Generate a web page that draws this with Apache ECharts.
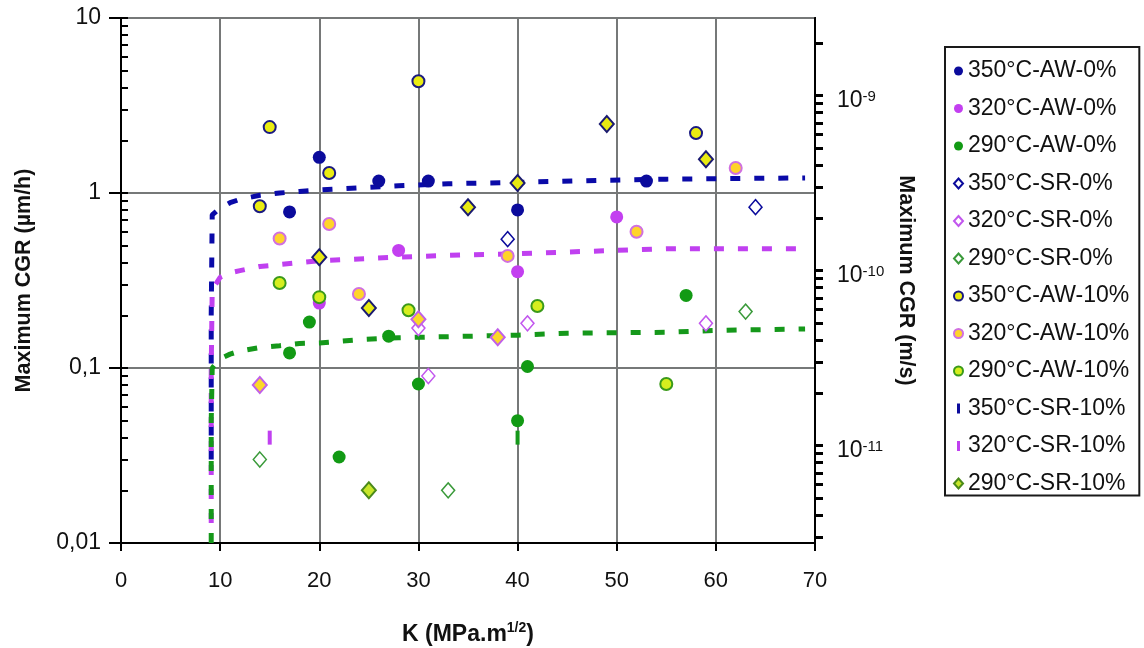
<!DOCTYPE html>
<html><head><meta charset="utf-8">
<script src="https://cdn.jsdelivr.net/npm/echarts@6/dist/echarts.min.js"></script>
<style>html,body{margin:0;padding:0;background:#fff}#c{width:1144px;height:648px}</style>
</head><body><div id="c"></div>
<script>
// ---- data (K in MPa.m^1/2, CGR in µm/h) ----
const aw350_0 = [[17,0.78],[20,1.6],[26,1.17],[31,1.17],[40,0.8],[53,1.17]];
const aw320_0 = [[20,0.235],[28,0.47],[40,0.355],[50,0.73]];
const aw290_0 = [[17,0.122],[19,0.183],[22,0.031],[27,0.152],[30,0.081],[40,0.05],[41,0.102],[57,0.26]];
const sr350_0 = [[39,0.545],[64,0.83]];
const sr320_0 = [[30,0.169],[31,0.09],[41,0.18],[59,0.18]];
const sr290_0 = [[14,0.03],[33,0.02],[63,0.21]];
const aw350_10 = [[14,0.84],[15,2.38],[21,1.3],[30,4.35],[58,2.2]];
const aw320_10 = [[16,0.55],[21,0.665],[24,0.265],[39,0.437],[52,0.6],[62,1.39]];
const aw290_10 = [[16,0.306],[20,0.254],[29,0.214],[42,0.226],[55,0.081]];
const sr350_10 = [[20,0.43],[25,0.22],[35,0.83],[40,1.14],[49,2.48],[59,1.56]];
const sr320_10 = [[14,0.08],[30,0.19],[38,0.15]];
const sr290_10 = [[25,0.02]];
const curve350 = [[9.1,0.03],[9.1,0.2],[9.2,0.75],[10,0.82],[11,0.88],[12,0.92],[14,0.97],[16,1.0],[18,1.02],[20,1.04],[24,1.07],[28,1.1],[33,1.13],[40,1.15],[48,1.18],[55,1.2],[62,1.21],[69,1.22]];
const curve320 = [[9.1,0.013],[9.1,0.1],[9.2,0.28],[10,0.33],[11,0.35],[12,0.36],[14,0.38],[16,0.39],[18,0.4],[20,0.41],[24,0.42],[28,0.43],[33,0.44],[40,0.45],[45,0.46],[50,0.47],[55,0.48],[69,0.48]];
const curve290 = [[9.1,0.01],[9.1,0.05],[9.2,0.1],[10,0.113],[11,0.12],[12,0.125],[14,0.131],[16,0.134],[18,0.138],[20,0.139],[24,0.145],[28,0.149],[33,0.151],[40,0.154],[45,0.158],[50,0.159],[55,0.16],[60,0.164],[69,0.167]];
const mark320 = [[15,0.04]];
const mark290 = [[40,0.04]];
const xTicks = [0,10,20,30,40,50,60,70];
const leftTickLabels = ['0,01','0,1','1','10'];
const rightLabelExps = [-11,-10,-9];
const seriesNames = ['350°C-AW-0%','320°C-AW-0%','290°C-AW-0%','350°C-SR-0%','320°C-SR-0%','290°C-SR-0%','350°C-AW-10%','320°C-AW-10%','290°C-AW-10%','350°C-SR-10%','320°C-SR-10%','290°C-SR-10%'];

// minor tick positions (log10 space)
const leftMinor = [];
for (let d=-2; d<1; d++) for (let k=1; k<=9; k++) leftMinor.push(Math.log10(k*Math.pow(10,d)));
leftMinor.push(1);
const UMH_TO_MS = 1e-6/3600;
const rMin = Math.log10(0.01*UMH_TO_MS), rMax = Math.log10(10*UMH_TO_MS);
const rightMinor = [];
for (let d=-12; d<=-9; d++) for (let k=1; k<=9; k++) { const v = Math.log10(k*Math.pow(10,d)); if (v>=rMin && v<=rMax) rightMinor.push(v); }

const NAVY='#0b0b9c', MAG='#c33ff0', GRN='#129a14';
const FONT='Liberation Sans, Arial, sans-serif';
const DASH='path://M0,0h3v10h-3z';

function sc(name, data, symbol, size, color, border, bw, z){
  return {type:'scatter', name, data, symbol, symbolSize:size, z,
    itemStyle:{color, borderColor:border, borderWidth:bw, opacity:1}, emphasis:{disabled:true}};
}
function curve(name, data, color){
  return {type:'line', name, data, showSymbol:false, symbol:'none', z:2, silent:true,
    lineStyle:{color, width:5, type:[10,14], cap:'butt'}};
}

const series = [
  curve('c350', curve350, '#0a0aa8'),
  curve('c320', curve320, '#c040f0'),
  curve('c290', curve290, '#15981a'),
  sc('m320', mark320, 'rect', [4,14], '#c040f0', '#c040f0', 0, 3),
  sc('m290', mark290, 'rect', [4,14], '#15981a', '#15981a', 0, 3),
  sc(seriesNames[0], aw350_0, 'circle', 13, NAVY, NAVY, 0, 4),
  sc(seriesNames[1], aw320_0, 'circle', 13, MAG, MAG, 0, 4),
  sc(seriesNames[2], aw290_0, 'circle', 13, GRN, GRN, 0, 4),
  sc(seriesNames[3], sr350_0, 'diamond', [13,15], '#ffffff', NAVY, 1.5, 5),
  sc(seriesNames[4], sr320_0, 'diamond', [13,15], '#ffffff', '#c257ee', 1.5, 5),
  sc(seriesNames[5], sr290_0, 'diamond', [13,15], '#ffffff', '#3a9a3a', 1.5, 5),
  sc(seriesNames[6], aw350_10, 'circle', 12, '#eaec12', '#1a1a80', 2, 6),
  sc(seriesNames[7], aw320_10, 'circle', 12, '#ffd42a', '#d070e0', 2, 6),
  sc(seriesNames[8], aw290_10, 'circle', 12, '#d6ee1e', '#3a9a1a', 2, 6),
  sc(seriesNames[9], sr350_10, 'diamond', [14,16], '#e8ea12', '#1a1a70', 2, 7),
  sc(seriesNames[10], sr320_10, 'diamond', [14,16], '#fcd828', '#c060e8', 2, 7),
  sc(seriesNames[11], sr290_10, 'diamond', [14,16], '#c8e62a', '#4a8a1a', 2, 7)
];

const legendData = seriesNames.map((n,i) => {
  if (i===9) return {name:n, icon:DASH, itemStyle:{color:NAVY, borderWidth:0}};
  if (i===10) return {name:n, icon:DASH, itemStyle:{color:'#c040f0', borderWidth:0}};
  if (i>=3 && i<=5 || i===11) return {name:n, icon:'diamond'};
  return {name:n, icon:'circle'};
});

const option = {
  animation:false,
  backgroundColor:'#fff',
  textStyle:{fontFamily:FONT},
  grid:{left:121, top:18, right:329, bottom:105, outerBoundsMode:'none', containLabel:false,
        show:true, borderColor:'#000', borderWidth:2, backgroundColor:'transparent'},
  legend:{
    orient:'vertical', left:945, top:47, data:legendData,
    padding:[12,10,0,8], itemWidth:9, itemHeight:10, itemGap:13.5,
    backgroundColor:'#fff', borderColor:'#1a1a1a', borderWidth:2, borderRadius:0,
    textStyle:{fontFamily:FONT, fontSize:23, color:'#111', lineHeight:24},
    selectedMode:false
  },
  xAxis:{
    type:'value', min:xTicks[0], max:xTicks[xTicks.length-1], interval:10,
    name:'K (MPa.m{sup|1/2})', nameLocation:'middle', nameGap:78,
    nameTextStyle:{fontFamily:FONT, fontWeight:'bold', fontSize:23, color:'#111', lineHeight:28,
      rich:{sup:{fontFamily:FONT, fontWeight:'bold', fontSize:14, verticalAlign:'top', lineHeight:14, color:'#111'}}},
    axisLine:{show:true, onZero:false, lineStyle:{color:'#000', width:2}},
    axisTick:{show:true, length:8, lineStyle:{color:'#000', width:2}},
    axisLabel:{fontFamily:FONT, fontSize:22, color:'#111', margin:27},
    splitLine:{show:true, lineStyle:{color:'#767878', width:2}}
  },
  yAxis:[
    {type:'log', logBase:10, min:0.01, max:10, position:'left',
     name:'Maximum CGR (µm/h)', nameLocation:'middle', nameGap:86, nameRotate:90,
     nameTextStyle:{fontFamily:FONT, fontWeight:'bold', fontSize:21.5, color:'#111'},
     axisLine:{show:true, onZero:false, lineStyle:{color:'#000', width:2}},
     axisTick:{show:true, length:12, lineStyle:{color:'#000', width:2}},
     axisLabel:{fontFamily:FONT, fontSize:23, color:'#111', margin:20,
       formatter:v => leftTickLabels[Math.round(Math.log10(v))+2]},
     splitLine:{show:true, lineStyle:{color:'#767878', width:2}}},
    {type:'value', min:-2, max:1, position:'left', offset:0,
     axisLine:{show:false}, axisLabel:{show:false}, splitLine:{show:false},
     axisTick:{show:true, inside:true, length:7, customValues:leftMinor, lineStyle:{color:'#000', width:2}}},
    {type:'value', min:rMin, max:rMax, position:'right', offset:0,
     name:'Maximum CGR (m/s)', nameLocation:'middle', nameGap:80, nameRotate:-90,
     nameTextStyle:{fontFamily:FONT, fontWeight:'bold', fontSize:21.5, color:'#111'},
     axisLine:{show:true, onZero:false, lineStyle:{color:'#000', width:2}},
     axisTick:{show:true, length:8, customValues:rightMinor, lineStyle:{color:'#000', width:3}},
     axisLabel:{show:true, customValues:rightLabelExps, margin:22, fontFamily:FONT, fontSize:23, color:'#111',
       padding:[10,0,0,0],
       formatter:v => '10{sup|' + Math.round(v) + '}',
       rich:{sup:{fontFamily:FONT, fontSize:15, color:'#111', verticalAlign:'top', lineHeight:14}}},
     splitLine:{show:false}}
  ],
  series
};
const chart = echarts.init(document.getElementById('c'), null, {renderer:'canvas'});
chart.setOption(option);
</script></body></html>
